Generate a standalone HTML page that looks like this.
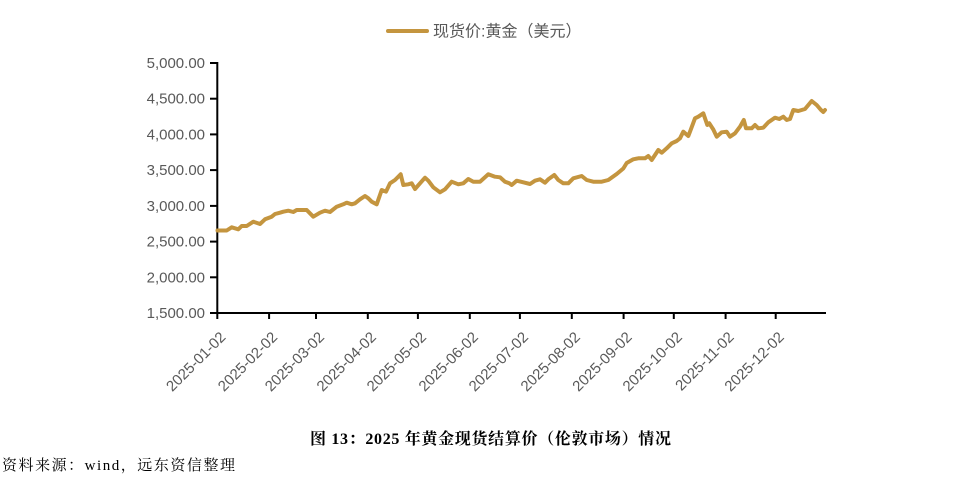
<!DOCTYPE html>
<html>
<head>
<meta charset="utf-8">
<style>
  html, body { margin: 0; padding: 0; background: #ffffff; }
  body { width: 970px; height: 478px; overflow: hidden; }
  svg { display: block; }
  .ylab { font-family: "Liberation Sans", "Noto Sans CJK SC", sans-serif; font-size: 15px; fill: #595959; }
  .xlab { font-family: "Liberation Sans", "Noto Sans CJK SC", sans-serif; font-size: 15px; fill: #595959; }
  .leg { font-family: "Liberation Sans", "Noto Sans CJK SC", sans-serif; font-size: 16px; fill: #595959; }
  .cap { font-family: "Liberation Serif", "Noto Serif CJK SC", serif; font-size: 16px; font-weight: bold; fill: #000; }
  .src { font-family: "Liberation Serif", "Noto Serif CJK SC", serif; font-size: 15px; fill: #000; }
</style>
</head>
<body>
<svg width="970" height="478" viewBox="0 0 970 478" xmlns="http://www.w3.org/2000/svg">
  <rect x="0" y="0" width="970" height="478" fill="#ffffff"/>

  <!-- Legend -->
  <line x1="388" y1="31" x2="427" y2="31" stroke="#C4953F" stroke-width="4" stroke-linecap="round"/>
  <text class="leg" x="433" y="36.5">现货价:黄金（美元）</text>

  <!-- Y axis labels -->
  <text class="ylab" x="205" y="68" text-anchor="end">5,000.00</text>
  <text class="ylab" x="205" y="103.7" text-anchor="end">4,500.00</text>
  <text class="ylab" x="205" y="139.4" text-anchor="end">4,000.00</text>
  <text class="ylab" x="205" y="175.1" text-anchor="end">3,500.00</text>
  <text class="ylab" x="205" y="210.9" text-anchor="end">3,000.00</text>
  <text class="ylab" x="205" y="246.6" text-anchor="end">2,500.00</text>
  <text class="ylab" x="205" y="282.3" text-anchor="end">2,000.00</text>
  <text class="ylab" x="205" y="318" text-anchor="end">1,500.00</text>

  <!-- Axes -->
  <g stroke="#000" stroke-width="2">
    <line x1="217.3" y1="62" x2="217.3" y2="314"/>
    <line x1="216.3" y1="313" x2="826" y2="313"/>
    <!-- y ticks -->
    <line x1="210" y1="63" x2="217" y2="63"/>
    <line x1="210" y1="98.7" x2="217" y2="98.7"/>
    <line x1="210" y1="134.4" x2="217" y2="134.4"/>
    <line x1="210" y1="170.1" x2="217" y2="170.1"/>
    <line x1="210" y1="205.9" x2="217" y2="205.9"/>
    <line x1="210" y1="241.6" x2="217" y2="241.6"/>
    <line x1="210" y1="277.3" x2="217" y2="277.3"/>
    <line x1="210" y1="313" x2="217" y2="313"/>
    <!-- x ticks -->
    <line x1="217.3" y1="313" x2="217.3" y2="319"/>
    <line x1="269.1" y1="313" x2="269.1" y2="319"/>
    <line x1="316" y1="313" x2="316" y2="319"/>
    <line x1="367.8" y1="313" x2="367.8" y2="319"/>
    <line x1="417.9" y1="313" x2="417.9" y2="319"/>
    <line x1="469.8" y1="313" x2="469.8" y2="319"/>
    <line x1="519.9" y1="313" x2="519.9" y2="319"/>
    <line x1="571.8" y1="313" x2="571.8" y2="319"/>
    <line x1="623.6" y1="313" x2="623.6" y2="319"/>
    <line x1="673.8" y1="313" x2="673.8" y2="319"/>
    <line x1="725.6" y1="313" x2="725.6" y2="319"/>
    <line x1="775.7" y1="313" x2="775.7" y2="319"/>
  </g>

  <!-- X axis labels -->
  <text class="xlab" text-anchor="end" transform="translate(226.5,338) rotate(-45)">2025-01-02</text>
  <text class="xlab" text-anchor="end" transform="translate(278.3,338) rotate(-45)">2025-02-02</text>
  <text class="xlab" text-anchor="end" transform="translate(325.2,338) rotate(-45)">2025-03-02</text>
  <text class="xlab" text-anchor="end" transform="translate(377,338) rotate(-45)">2025-04-02</text>
  <text class="xlab" text-anchor="end" transform="translate(427.1,338) rotate(-45)">2025-05-02</text>
  <text class="xlab" text-anchor="end" transform="translate(479,338) rotate(-45)">2025-06-02</text>
  <text class="xlab" text-anchor="end" transform="translate(529.1,338) rotate(-45)">2025-07-02</text>
  <text class="xlab" text-anchor="end" transform="translate(581,338) rotate(-45)">2025-08-02</text>
  <text class="xlab" text-anchor="end" transform="translate(632.8,338) rotate(-45)">2025-09-02</text>
  <text class="xlab" text-anchor="end" transform="translate(683,338) rotate(-45)">2025-10-02</text>
  <text class="xlab" text-anchor="end" transform="translate(734.8,338) rotate(-45)">2025-11-02</text>
  <text class="xlab" text-anchor="end" transform="translate(784.9,338) rotate(-45)">2025-12-02</text>

  <!-- Series -->
  <polyline fill="none" stroke="#C4953F" stroke-width="4" stroke-linejoin="round" stroke-linecap="round"
    points="217.5,230.5 226.7,230.5 231.7,227.3 238.3,229.3 241.7,226 246.7,226 253.3,221.7 260,224 265,219.3 271.7,216.7 275,214 280,212.7 283.3,211.7 288.3,210.7 293.3,212 296.7,210 306.7,210 313.3,216.7 320,212.7 325,210.7 330,212 336.7,206.7 343.3,204.3 346.7,202.7 351.7,204.3 355,203.3 360,199.3 365,196 368.3,198.3 371.7,201.7 376.7,204.3 381.7,190 386,191.7 390,183.3 395,180 400.7,174.3 403.3,185 408.3,184.3 411.7,183.3 415,189 420,183.3 425,177.7 428.3,180.7 433.3,187.3 440,192.3 445,189.3 451.7,181.7 458.3,184.3 463.3,183.3 468.3,179 473.3,181.7 480,181.7 488.3,174.3 495,176.7 500,177.3 505,181.7 509.3,183.3 511.7,185 516.7,180.7 523.3,182.3 530,184 535,180.7 540,179.3 545,182.7 548.3,179.3 554.3,175 558.3,180 563.3,183.3 568.3,183.3 573.3,178.3 581.7,176 586.7,180 593.3,181.7 601.7,181.7 608.3,180 616.7,174 623.3,168.5 626.7,163 633.3,159.3 638.3,158.3 645,158.3 648.3,156 651.7,160 658.3,150 661.7,152.7 666.7,148.3 671.7,143.3 676.7,141 680,138.3 683.3,131.7 688.3,136 690,131.7 695,118.3 698.3,116.7 703.3,113.3 707.3,125 709.3,123.3 713.3,129.5 716.7,136.7 721.7,132.3 726.7,131.7 730,136.7 735,133.3 740,126.7 743.8,120 746,128.3 751.7,128.3 755,125 758.3,128.3 763.3,127.7 768.3,122.3 775,117.7 779.3,119 783.3,116.7 786.7,120 790,119 793.3,110 798.3,111 805,109 811.7,101 816.7,105 821,110 823.3,112 825,110"/>

  <!-- Caption -->
  <text class="cap" x="310" y="444" textLength="361" lengthAdjust="spacing">图 13：2025 年黄金现货结算价（伦敦市场）情况</text>

  <!-- Source -->
  <text class="src" x="2" y="470" textLength="233" lengthAdjust="spacing">资料来源：wind，远东资信整理</text>
</svg>
</body>
</html>
